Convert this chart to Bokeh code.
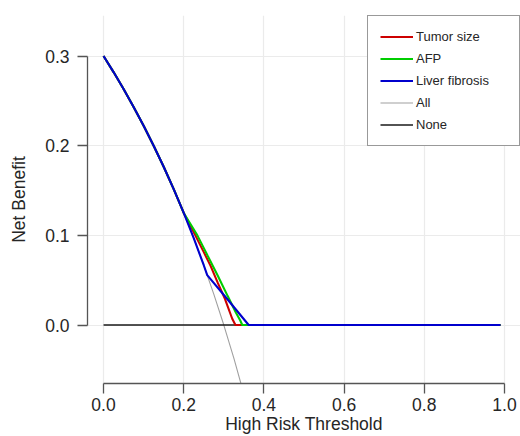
from bokeh.plotting import figure
from bokeh.models import Range1d, FixedTicker, Legend, LegendItem, NumeralTickFormatter
from bokeh.embed import file_html
from bokeh.resources import INLINE

# ---- data ----
thr_all = [0.000, 0.025, 0.050, 0.075, 0.100, 0.125, 0.150, 0.175, 0.200, 0.225, 0.250, 0.275, 0.300, 0.325, 0.350]
nb_all = [0.3000, 0.2821, 0.2632, 0.2432, 0.2222, 0.2000, 0.1765, 0.1515, 0.1250, 0.0968, 0.0667, 0.0345, 0.0000, -0.0370, -0.0769]

thr_none = [0.00, 0.99]
nb_none = [0.0, 0.0]

thr_tumor = [0.000, 0.025, 0.050, 0.075, 0.100, 0.125, 0.150, 0.175, 0.200, 0.229, 0.250, 0.267, 0.285, 0.303, 0.321, 0.329, 0.990]
nb_tumor = [0.3000, 0.2821, 0.2632, 0.2432, 0.2222, 0.2000, 0.1765, 0.1515, 0.1250, 0.1000, 0.0813, 0.0660, 0.0470, 0.0290, 0.0070, 0.0000, 0.0000]

thr_afp = [0.000, 0.025, 0.050, 0.075, 0.100, 0.125, 0.150, 0.175, 0.200, 0.234, 0.260, 0.285, 0.310, 0.330, 0.341, 0.346, 0.990]
nb_afp = [0.3000, 0.2821, 0.2632, 0.2432, 0.2222, 0.2000, 0.1765, 0.1515, 0.1250, 0.1000, 0.0770, 0.0550, 0.0320, 0.0140, 0.0050, 0.0000, 0.0000]

thr_liver = [0.000, 0.025, 0.050, 0.075, 0.100, 0.125, 0.150, 0.175, 0.200, 0.225, 0.250, 0.2586, 0.3085, 0.362, 0.990]
nb_liver = [0.3000, 0.2821, 0.2632, 0.2432, 0.2222, 0.2000, 0.1765, 0.1515, 0.1250, 0.0968, 0.0667, 0.0557, 0.0290, 0.0000, 0.0000]

series_names = ["Tumor size", "AFP", "Liver fibrosis", "All", "None"]
x_ticks = [0.0, 0.2, 0.4, 0.6, 0.8, 1.0]
y_ticks = [0.0, 0.1, 0.2, 0.3]
x_label = "High Risk Threshold"
y_label = "Net Benefit"

FONT = "Liberation Sans"

p = figure(width=520, height=436, output_backend="svg", toolbar_location=None,
           x_range=Range1d(-0.04, 1.04), y_range=Range1d(-0.0652, 0.3452),
           min_border_left=87, min_border_top=15, min_border_right=0, min_border_bottom=53)
p.outline_line_color = None
p.background_fill_color = "white"
p.border_fill_color = "white"

for ax in (p.xaxis[0], p.yaxis[0]):
    ax.axis_line_color = "#555555"
    ax.axis_line_width = 1.3
    ax.major_tick_line_color = "#555555"
    ax.major_tick_line_width = 1.3
    ax.major_tick_out = 10
    ax.major_tick_in = 0
    ax.minor_tick_line_color = None
    ax.major_label_text_font = FONT
    ax.major_label_text_font_size = "17.5px"
    ax.major_label_text_color = "#262626"
    ax.axis_label_text_font = FONT
    ax.axis_label_text_font_size = "17.5px"
    ax.axis_label_text_font_style = "normal"
    ax.axis_label_text_color = "#262626"
    ax.formatter = NumeralTickFormatter(format="0.0")

p.xaxis.ticker = FixedTicker(ticks=x_ticks)
p.yaxis.ticker = FixedTicker(ticks=y_ticks)
p.xaxis.bounds = (x_ticks[0], x_ticks[-1])
p.yaxis.bounds = (y_ticks[0], y_ticks[-1])
p.xaxis.axis_label = x_label
p.yaxis.axis_label = y_label
p.xaxis.major_label_standoff = 4
p.xaxis.axis_label_standoff = 0
p.yaxis.major_label_standoff = 8
p.yaxis.axis_label_standoff = 13

p.xgrid.ticker = FixedTicker(ticks=x_ticks)
p.ygrid.ticker = FixedTicker(ticks=y_ticks)
p.grid.grid_line_color = "#EBEBEB"
p.grid.grid_line_width = 1.2

r_all = p.line(thr_all, nb_all, line_color="#A0A0A0", line_width=1.1)
r_none = p.line(thr_none, nb_none, line_color="#1a1a1a", line_width=1.4)
r_tumor = p.line(thr_tumor, nb_tumor, line_color="#CD0000", line_width=2.1)
r_afp = p.line(thr_afp, nb_afp, line_color="#00CD00", line_width=2.1)
r_liver = p.line(thr_liver, nb_liver, line_color="#0000CD", line_width=2.1)

renderers = [r_tumor, r_afp, r_liver, r_all, r_none]
legend = Legend(items=[LegendItem(label=n, renderers=[r]) for n, r in zip(series_names, renderers)],
                location="top_right", margin=0, padding=12, spacing=5,
                glyph_width=33, glyph_height=17, label_height=17, label_standoff=3,
                label_width=91, border_line_color="#333333", border_line_width=1.2,
                label_text_font=FONT, label_text_font_size="13px", label_text_color="#262626",
                background_fill_color="white", background_fill_alpha=1.0)
p.add_layout(legend)

open("out.html", "w").write(file_html(p, INLINE))
